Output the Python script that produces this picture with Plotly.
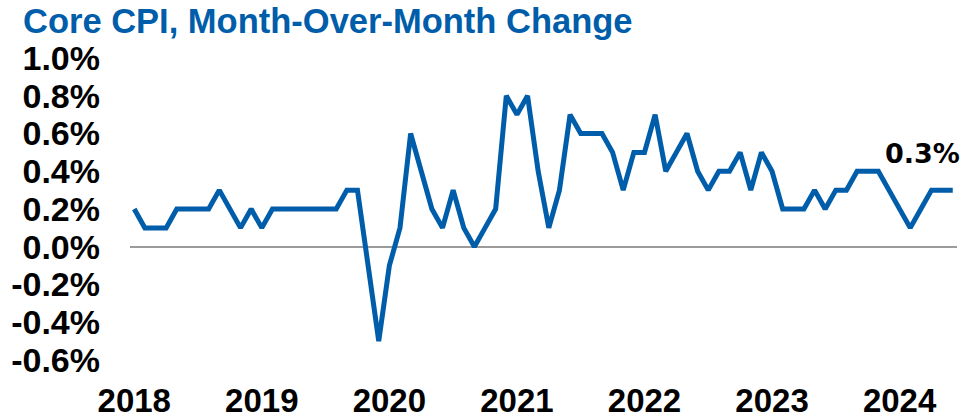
import plotly.graph_objects as go

months = [f"{y}-{m:02d}" for y in range(2018, 2025) for m in range(1, 13)]
months = months[months.index("2018-05"):months.index("2024-10") + 1]

core_cpi_mom = [
    0.2, 0.1, 0.1, 0.1, 0.2, 0.2, 0.2, 0.2, 0.3, 0.2, 0.1, 0.2,   # May18-Apr19
    0.1, 0.2, 0.2, 0.2, 0.2, 0.2, 0.2, 0.2, 0.3, 0.3, -0.1, -0.5, # May19-Apr20
    -0.1, 0.1, 0.6, 0.4, 0.2, 0.1, 0.3, 0.1, 0.0, 0.1, 0.2, 0.8,  # May20-Apr21
    0.7, 0.8, 0.4, 0.1, 0.3, 0.7, 0.6, 0.6, 0.6, 0.5, 0.3, 0.5,   # May21-Apr22
    0.5, 0.7, 0.4, 0.5, 0.6, 0.4, 0.3, 0.4, 0.4, 0.5, 0.3, 0.5,   # May22-Apr23
    0.4, 0.2, 0.2, 0.2, 0.3, 0.2, 0.3, 0.3, 0.4, 0.4, 0.4, 0.3,   # May23-Apr24
    0.2, 0.1, 0.2, 0.3, 0.3, 0.3,                                 # May24-Oct24
]

year_tick_months = months[::12]
year_tick_labels = [m[:4] for m in year_tick_months]

y_tick_vals = [1.0, 0.8, 0.6, 0.4, 0.2, 0.0, -0.2, -0.4, -0.6]
y_tick_text = [f"{v:.1f}%" for v in y_tick_vals]

BLUE = "#005DAA"

W, H = 965, 417

fig = go.Figure()
fig.add_trace(go.Scatter(
    x=months, y=core_cpi_mom, mode="lines",
    line=dict(color=BLUE, width=5, shape="linear"),
    hoverinfo="skip", showlegend=False,
))

fig.add_annotation(
    x=months[-1], y=core_cpi_mom[-1], xref="x", yref="y",
    text=f"<b>{core_cpi_mom[-1]:.1f}%</b>", showarrow=False,
    xanchor="right", yanchor="bottom", xshift=9, yshift=19,
    font=dict(family="DejaVu Sans", size=27, color="#000000"),
)

fig.update_layout(
    width=W, height=H,
    margin=dict(l=130, r=8, t=58, b=57),
    paper_bgcolor="white", plot_bgcolor="white",
    title=dict(
        text="<b>Core CPI, Month-Over-Month Change</b>",
        font=dict(family="Liberation Sans", size=34.5, color=BLUE),
        x=23 / W, xanchor="left", xref="container",
        y=1 - 21 / H, yanchor="middle", yref="container",
        pad=dict(l=0, r=0, t=0, b=0),
    ),
    xaxis=dict(
        type="category", categoryorder="array", categoryarray=months,
        range=[-0.4, len(months) - 0.6],
        tickmode="array", tickvals=year_tick_months, ticktext=year_tick_labels,
        showgrid=False, zeroline=False, showline=False, ticks="",
        ticklabelstandoff=18, automargin=False,
        tickfont=dict(family="Liberation Sans", size=33, color="#000000", weight="bold"),
    ),
    yaxis=dict(
        range=[-0.6, 1.0],
        tickmode="array", tickvals=y_tick_vals, ticktext=y_tick_text,
        showgrid=False, showline=False, ticks="",
        zeroline=True, zerolinecolor="#9B9B9B", zerolinewidth=2,
        ticklabelstandoff=29, automargin=False,
        tickfont=dict(family="Liberation Sans", size=34, color="#000000", weight="bold"),
    ),
)

# remove the default page margin so the 965x417 figure fills the window exactly
fig.write_html(
    "out.html",
    config={"displayModeBar": False},
    post_script="document.body.style.margin='0';document.body.style.overflow='hidden';",
)
